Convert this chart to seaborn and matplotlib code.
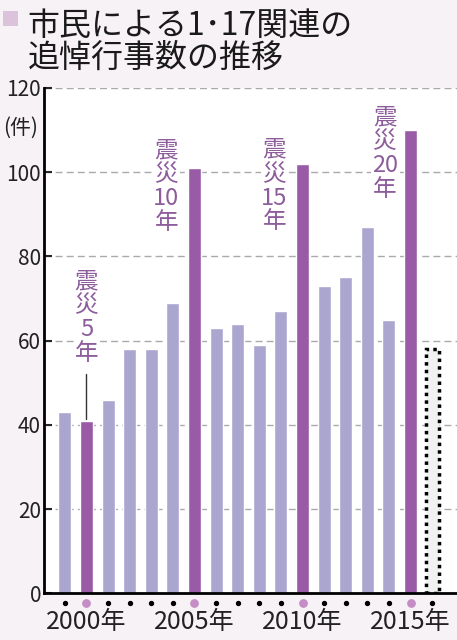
import matplotlib
matplotlib.use("Agg")
import matplotlib.pyplot as plt
import matplotlib.transforms as mtransforms
import pandas as pd
import seaborn as sns

# data
years = [1999, 2000, 2001, 2002, 2003, 2004, 2005, 2006, 2007, 2008,
         2009, 2010, 2011, 2012, 2013, 2014, 2015, 2016]
counts = [43, 41, 46, 58, 58, 69, 101, 63, 64, 59,
          67, 102, 73, 75, 87, 65, 110, 58]
kinds = ["通常", "節目", "通常", "通常", "通常", "通常", "節目", "通常", "通常", "通常",
         "通常", "節目", "通常", "通常", "通常", "通常", "節目", "今年"]
milestone_labels = {2000: "震\n災\n5\n年", 2005: "震\n災\n10\n年",
                    2010: "震\n災\n15\n年", 2015: "震\n災\n20\n年"}
labelled_years = [2000, 2005, 2010, 2015]
y_ticks = [0, 20, 40, 60, 80, 100, 120]

light = "#aba6d0"
dark = "#9a5ba6"
annot_col = "#8c5c9b"
bg = "#f7f2f5"

sns.set_theme(style="white")
plt.rcParams['font.family'] = ['Noto Sans CJK JP', 'DejaVu Sans']

df = pd.DataFrame({"year": [str(y) for y in years], "count": counts, "kind": kinds})

fig = plt.figure(figsize=(4.57, 6.4), dpi=100, facecolor=bg)
ax = fig.add_axes([0.096, 0.073, 0.904, 0.7895])
ax.set_facecolor("white")

sns.barplot(data=df, x="year", y="count", hue="kind",
            palette={"通常": light, "節目": dark, "今年": "#f1f1f1"},
            dodge=False, width=0.6, saturation=1, legend=False, ax=ax)

# the current year bar: dotted outline
cur = kinds.index("今年")
for p in ax.patches:
    if abs(p.get_x() + p.get_width() / 2 - cur) < 0.1:
        p.set_edgecolor("black")
        p.set_linestyle((0, (1, 1.2)))
        p.set_linewidth(2.5)

ax.set_ylim(0, 120)
ax.set_xlim(-0.97, len(years) - 1 + 1.15)
ax.set_yticks(y_ticks)
ax.set_yticklabels([str(t) for t in y_ticks], fontsize=15, color="#222222")
ax.yaxis.grid(True, linestyle=(0, (5, 3)), color="#aaaaaa", linewidth=1)
ax.set_axisbelow(True)
ax.tick_params(axis="y", direction="in", length=6, width=1.5, pad=2, left=True)
ax.tick_params(axis="x", bottom=False, labelbottom=False)
ax.set_xlabel("")
ax.set_ylabel("")
for side in ["top", "right"]:
    ax.spines[side].set_visible(False)
for side in ["left", "bottom"]:
    ax.spines[side].set_color("black")
    ax.spines[side].set_linewidth(2)

blend = mtransforms.blended_transform_factory(ax.transData, ax.transAxes)
for i, y in enumerate(years):
    if y in labelled_years:
        ax.scatter(i, -0.02, s=28, color="#c58dc6", transform=blend, clip_on=False, zorder=3)
    else:
        ax.scatter(i, -0.02, s=8, color="black", transform=blend, clip_on=False, zorder=3)
for y in labelled_years:
    ax.text(years.index(y), -0.056, f"{y}年", transform=blend, ha="center", va="center",
            fontsize=18, color="#222222")

# milestone annotations
annot_pos = {2000: (0.0, 65.5), 2005: (-1.3, 96.5), 2010: (-1.3, 96.7), 2015: (-1.2, 104.5)}
for y, txt in milestone_labels.items():
    i = years.index(y)
    dx, ty = annot_pos[y]
    ax.text(i + dx, ty, txt, ha="center", va="center", fontsize=17, color=annot_col,
            linespacing=1.05, zorder=4,
            bbox=dict(facecolor="white", edgecolor="none", pad=0.5))
i0 = years.index(2000)
ax.plot([i0, i0], [52, counts[i0] + 0.5], color="#333333", linewidth=1, zorder=3)

# title and unit
fig.patches.append(plt.Rectangle((0.007, 0.96), 0.032, 0.023, transform=fig.transFigure,
                                 facecolor="#dcc3dc", edgecolor="none"))
fig.text(0.06, 0.985, "市民による1･17関連の\n追悼行事数の推移", ha="left", va="top",
         fontsize=23, color="#1a1a1a", linespacing=1.02)
fig.text(0.046, 0.8, "(件)", ha="center", va="center", fontsize=15, color="#222222")

fig.savefig("out.png", dpi=100, facecolor=bg)
